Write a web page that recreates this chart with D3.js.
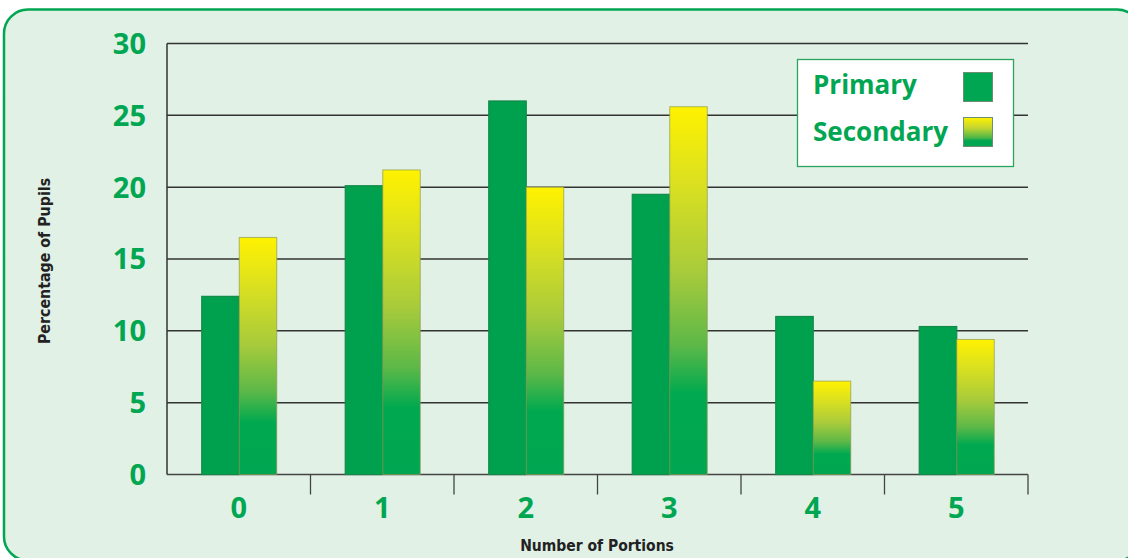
<!DOCTYPE html>
<html><head><meta charset="utf-8">
<script src="https://cdn.jsdelivr.net/npm/d3@7"></script>
<style>html,body{margin:0;padding:0;background:#fff;}svg{display:block;}</style>
</head><body>
<svg id="c" width="1128" height="558"></svg>
<script>
const categories = ["0","1","2","3","4","5"];
const primary = [12.4, 20.1, 26.0, 19.5, 11.0, 10.3];
const secondary = [16.5, 21.2, 20.0, 25.6, 6.5, 9.4];
const yTicks = [0,5,10,15,20,25,30];
const seriesNames = ["Primary","Secondary"];

const svg = d3.select("#c");
const green = "#00a651";
const m = {l:167, r:1028, t:43.5, b:474.5};

svg.append("rect").attr("x",4).attr("y",9.5).attr("width",1137).attr("height",551)
  .attr("rx",24).attr("fill","#e1f1e6").attr("stroke",green).attr("stroke-width",2.5);

const defs = svg.append("defs");
const g1 = defs.append("linearGradient").attr("id","sec").attr("x1",0).attr("y1",0).attr("x2",0).attr("y2",1);
[[0,"#fff200"],[0.2,"#dce11f"],[0.45,"#a8cb3b"],[0.65,"#5cb848"],[0.78,"#00a94f"],[1,"#00a651"]]
  .forEach(([o,c])=>g1.append("stop").attr("offset",o).attr("stop-color",c));
const g2 = defs.append("linearGradient").attr("id","secL").attr("x1",0).attr("y1",0).attr("x2",0).attr("y2",1);
[[0,"#fff200"],[0.35,"#c6d630"],[0.7,"#4db748"],[0.8,"#00a651"],[1,"#00a651"]]
  .forEach(([o,c])=>g2.append("stop").attr("offset",o).attr("stop-color",c));

const x = d3.scaleBand().domain(categories).range([m.l, m.r]);
const y = d3.scaleLinear().domain([0,30]).range([m.b, m.t]);
const bw = 37.5;

// grid
svg.append("g").selectAll("line").data(yTicks).join("line")
  .attr("x1",m.l).attr("x2",m.r).attr("y1",d=>y(d)).attr("y2",d=>y(d))
  .attr("stroke",d=>d===0?"#444":"#333").attr("stroke-width",1.5);
svg.append("line").attr("x1",m.l).attr("x2",m.l).attr("y1",m.t).attr("y2",m.b).attr("stroke","#333").attr("stroke-width",1.5);

// y labels
svg.append("g").selectAll("text").data(yTicks).join("text")
  .attr("x",146).attr("y",d=>y(d)).attr("dy","0.36em").attr("text-anchor","end")
  .attr("fill",green).attr("font-family","'Open Sans', sans-serif").attr("font-weight",700)
  .attr("font-size",29).text(d=>d);

// bars
const bars = svg.append("g");
categories.forEach((c,i)=>{
  const cx = x(c) + x.bandwidth()/2 + 0.5;
  bars.append("rect").attr("x",cx-bw).attr("y",y(primary[i])).attr("width",bw)
    .attr("height",y(0)-y(primary[i])).attr("fill","#00a14e").attr("stroke","#138a48").attr("stroke-width",1.2);
  bars.append("rect").attr("x",cx).attr("y",y(secondary[i])).attr("width",bw)
    .attr("height",y(0)-y(secondary[i])).attr("fill","url(#sec)").attr("stroke","#8a9a50").attr("stroke-width",1)
    .attr("stroke-opacity",0.7);
});

// x axis ticks
const xa = svg.append("g").attr("transform",`translate(0,${m.b})`)
  .call(d3.axisBottom(x).tickSize(0).tickFormat(d=>d));
xa.select(".domain").remove();
xa.selectAll("text").attr("fill",green).attr("font-family","'Open Sans', sans-serif")
  .attr("font-weight",700).attr("font-size",29).attr("dy","1.4em");
svg.append("g").selectAll("line").data(categories).join("line")
  .attr("x1",d=>x(d)+x.bandwidth()).attr("x2",d=>x(d)+x.bandwidth())
  .attr("y1",m.b).attr("y2",m.b+20).attr("stroke","#444").attr("stroke-width",1.3);

// axis titles
svg.append("text").attr("transform","translate(50,261) rotate(-90)").attr("text-anchor","middle")
  .attr("font-family","'DejaVu Sans Condensed','DejaVu Sans',sans-serif").attr("font-weight",700)
  .attr("font-size",15.8).attr("fill","#222").text("Percentage of Pupils");
svg.append("text").attr("x",597).attr("y",551).attr("text-anchor","middle")
  .attr("font-family","'DejaVu Sans Condensed','DejaVu Sans',sans-serif").attr("font-weight",700)
  .attr("font-size",15.5).attr("fill","#222").text("Number of Portions");

// legend
const lg = svg.append("g");
lg.append("rect").attr("x",797.5).attr("y",59.5).attr("width",216).attr("height",107)
  .attr("fill","#fff").attr("stroke","#2aa45e").attr("stroke-width",1.3);
seriesNames.forEach((n,i)=>{
  lg.append("text").attr("x",813).attr("y",94+i*47).attr("fill",green)
    .attr("font-family","'Open Sans', sans-serif").attr("font-weight",700).attr("font-size",26).text(n);
  lg.append("rect").attr("x",963.5).attr("y",72.5+i*45).attr("width",29).attr("height",29)
    .attr("fill",i===0?"#00a651":"url(#secL)").attr("stroke","#6b8f70").attr("stroke-width",1);
});
</script>
</body></html>
